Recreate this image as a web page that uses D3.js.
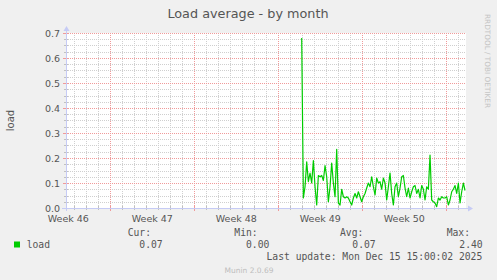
<!DOCTYPE html>
<html>
<head>
<meta charset="utf-8">
<script src="https://cdn.jsdelivr.net/npm/d3@7"></script>
<style>
  body { margin: 0; background: #f0f0f0; }
  text { font-family: 'DejaVu Sans', sans-serif; fill: #555; }
  .mono { font-family: 'DejaVu Sans Mono', monospace; font-size: 9.7px; }
</style>
</head>
<body>
<div id="chart"></div>
<script>
// chart data
const title = 'Load average - by month'
const yLabel = 'load'
const yTicks = [0, 0.1, 0.2, 0.3, 0.4, 0.5, 0.6, 0.7]
const weekLabels = ['Week 46', 'Week 47', 'Week 48', 'Week 49', 'Week 50']
const weekLabelDates = [
  new Date(2025, 10, 12, 12),
  new Date(2025, 10, 19, 12),
  new Date(2025, 10, 26, 12),
  new Date(2025, 11, 3, 12),
  new Date(2025, 11, 10, 12)
]
const periodEnd = new Date(2025, 11, 15, 15, 24)
const periodHours = 800
const loadStart = new Date(2025, 11, 1, 22, 48)
const loadStepMinutes = 200
const loadValues = [
  0.68, 0.04, 0.085, 0.185, 0.105, 0.14, 0.10, 0.19, 0.085, 0.012,
  0.13, 0.125, 0.13, 0.11, 0.17, 0.125, 0.025, 0.085, 0.18, 0.10,
  0.045, 0.235, 0.02, 0.012, 0.075, 0.045, 0.04, 0.045, 0.04, 0.025,
  0.012, 0.04, 0.058, 0.04, 0.065, 0.045, 0.025, 0.045, 0.058, 0.08,
  0.10, 0.085, 0.125, 0.085, 0.052, 0.12, 0.10, 0.105, 0.075, 0.12,
  0.10, 0.032, 0.085, 0.14, 0.058, 0.012, 0.085, 0.10, 0.045, 0.08,
  0.125, 0.13, 0.08, 0.045, 0.08, 0.04, 0.065, 0.085, 0.09, 0.058,
  0.075, 0.04, 0.09, 0.075, 0.032, 0.085, 0.075, 0.212, 0.032, 0.025,
  0.02, 0.005, 0.04, 0.032, 0.045, 0.04, 0.04, 0.045, 0.012, 0.032,
  0.065, 0.075, 0.09, 0.058, 0.10, 0.02, 0.065, 0.10, 0.07
]
const legendName = 'load'
const legendHeaders = ['Cur:', 'Min:', 'Avg:', 'Max:']
const legendValues = ['0.07', '0.00', '0.07', '2.40']
const lastUpdate = 'Last update: Mon Dec 15 15:00:02 2025'
const footer = 'Munin 2.0.69'
const watermark = 'RRDTOOL / TOBI OETIKER'

const width = 497
const height = 280
const plot = { left: 66, right: 466, top: 33, bottom: 208 }

const svg = d3.select('#chart')
  .append('svg')
  .attr('width', width)
  .attr('height', height)

svg.append('rect')
  .attr('width', width)
  .attr('height', height)
  .attr('fill', '#f0f0f0')

const periodStart = new Date(periodEnd.getTime() - periodHours * 3600 * 1000)
const xScale = d3.scaleTime()
  .domain([periodStart, periodEnd])
  .range([plot.left, plot.right])
const yScale = d3.scaleLinear()
  .domain([0, 0.7])
  .range([plot.bottom, plot.top])

// white canvas
svg.append('rect')
  .attr('x', plot.left)
  .attr('y', plot.top)
  .attr('width', plot.right - plot.left)
  .attr('height', plot.bottom - plot.top)
  .attr('fill', '#ffffff')

const grid = svg.append('g').attr('stroke-dasharray', '1,1').attr('shape-rendering', 'crispEdges')

// minor grid: every day, every 0.025
const days = d3.timeDay.range(periodStart, periodEnd)
const weeks = d3.timeWeek.range(periodStart, periodEnd)
const weekSet = new Set(weeks.map(d => +d))
grid.selectAll('.vminor')
  .data(days.filter(d => !weekSet.has(+d)))
  .enter().append('line')
  .attr('x1', d => Math.round(xScale(d)) + 0.5)
  .attr('x2', d => Math.round(xScale(d)) + 0.5)
  .attr('y1', plot.top)
  .attr('y2', plot.bottom)
  .attr('stroke', '#cfcfcf')

const minorY = d3.range(0, 28).map(i => i * 0.025).filter((v, i) => i % 4 !== 0 && i > 0)
grid.selectAll('.hminor')
  .data(minorY)
  .enter().append('line')
  .attr('x1', plot.left)
  .attr('x2', plot.right)
  .attr('y1', d => Math.round(yScale(d)) + 0.5)
  .attr('y2', d => Math.round(yScale(d)) + 0.5)
  .attr('stroke', '#cfcfcf')

// major grid in red
grid.selectAll('.vmajor')
  .data(weeks)
  .enter().append('line')
  .attr('x1', d => Math.round(xScale(d)) + 0.5)
  .attr('x2', d => Math.round(xScale(d)) + 0.5)
  .attr('y1', plot.top)
  .attr('y2', plot.bottom)
  .attr('stroke', '#f09a9a')

grid.selectAll('.hmajor')
  .data(yTicks.slice(1))
  .enter().append('line')
  .attr('x1', plot.left)
  .attr('x2', plot.right)
  .attr('y1', d => Math.round(yScale(d)) + 0.5)
  .attr('y2', d => Math.round(yScale(d)) + 0.5)
  .attr('stroke', '#f09a9a')

// ticks on the axes
const ticks = svg.append('g').attr('shape-rendering', 'crispEdges')
ticks.selectAll('.xt')
  .data(days)
  .enter().append('line')
  .attr('x1', d => Math.round(xScale(d)) + 0.5)
  .attr('x2', d => Math.round(xScale(d)) + 0.5)
  .attr('y1', plot.bottom - 2)
  .attr('y2', d => weekSet.has(+d) ? plot.bottom + 3 : plot.bottom + 2)
  .attr('stroke', d => weekSet.has(+d) ? '#f09a9a' : '#c0c0c0')
ticks.selectAll('.yt')
  .data(d3.range(0, 29).map(i => i * 0.025))
  .enter().append('line')
  .attr('x1', (d, i) => i % 4 === 0 ? plot.left - 3 : plot.left - 2)
  .attr('x2', plot.left + 2)
  .attr('y1', d => Math.round(yScale(d)) + 0.5)
  .attr('y2', d => Math.round(yScale(d)) + 0.5)
  .attr('stroke', (d, i) => i % 4 === 0 ? '#f09a9a' : '#c0c0c0')

// the load line
const loadData = loadValues.map((v, i) => ({
  date: new Date(loadStart.getTime() + i * loadStepMinutes * 60000),
  value: v
}))
const line = d3.line()
  .x(d => xScale(d.date))
  .y(d => yScale(d.value))
svg.append('path')
  .datum(loadData)
  .attr('fill', 'none')
  .attr('stroke', '#00cc00')
  .attr('stroke-width', 1.2)
  .attr('stroke-linejoin', 'round')
  .attr('d', line)

// axes lines with arrows
const axisColor = '#c6cbf5'
svg.append('line')
  .attr('x1', plot.left - 4).attr('x2', plot.right + 3)
  .attr('y1', plot.bottom + 0.5).attr('y2', plot.bottom + 0.5)
  .attr('stroke', axisColor)
svg.append('line')
  .attr('x1', plot.left + 0.5).attr('x2', plot.left + 0.5)
  .attr('y1', plot.bottom + 3).attr('y2', plot.top - 3)
  .attr('stroke', axisColor)
svg.append('path')
  .attr('d', `M${plot.right + 2},${plot.bottom - 2.5} L${plot.right + 7},${plot.bottom + 0.5} L${plot.right + 2},${plot.bottom + 3.5} Z`)
  .attr('fill', axisColor)
svg.append('path')
  .attr('d', `M${plot.left - 2.5},${plot.top - 2} L${plot.left + 0.5},${plot.top - 7} L${plot.left + 3.5},${plot.top - 2} Z`)
  .attr('fill', axisColor)

// tick labels
svg.selectAll('.ylab')
  .data(yTicks)
  .enter().append('text')
  .attr('x', plot.left - 6)
  .attr('y', d => yScale(d) + 3.5)
  .attr('text-anchor', 'end')
  .attr('font-size', '9.5px')
  .text(d => d.toFixed(1))

svg.selectAll('.xlab')
  .data(weekLabels)
  .enter().append('text')
  .attr('x', (d, i) => xScale(weekLabelDates[i]))
  .attr('y', 221.5)
  .attr('text-anchor', 'middle')
  .attr('font-size', '9.5px')
  .text(d => d)

// title and y label
svg.append('text')
  .attr('x', 248)
  .attr('y', 17.5)
  .attr('text-anchor', 'middle')
  .attr('font-size', '12.8px')
  .text(title)

svg.append('text')
  .attr('transform', 'translate(14,' + (plot.top + plot.bottom) / 2 + ') rotate(-90)')
  .attr('text-anchor', 'middle')
  .attr('font-size', '10px')
  .text(yLabel)

svg.append('text')
  .attr('transform', 'translate(485,14) rotate(90)')
  .attr('font-size', '7.3px')
  .attr('fill', '#c4c4c4')
  .style('fill', '#c4c4c4')
  .text(watermark)

// legend
svg.append('rect')
  .attr('x', 14).attr('y', 241.5)
  .attr('width', 6).attr('height', 6)
  .attr('fill', '#00cc00')
svg.append('text')
  .attr('class', 'mono')
  .attr('x', 26.7).attr('y', 247.5)
  .text(legendName)

const headerX = [127.7, 234.3, 340, 446.7]
const valueX = [139.3, 246, 352.3, 459.3]
svg.selectAll('.lh')
  .data(legendHeaders)
  .enter().append('text')
  .attr('class', 'mono')
  .attr('x', (d, i) => headerX[i])
  .attr('y', 236)
  .text(d => d)
svg.selectAll('.lv')
  .data(legendValues)
  .enter().append('text')
  .attr('class', 'mono')
  .attr('x', (d, i) => valueX[i])
  .attr('y', 247.5)
  .text(d => d)

svg.append('text')
  .attr('class', 'mono')
  .attr('x', 482.3).attr('y', 259.5)
  .attr('text-anchor', 'end')
  .text(lastUpdate)

svg.append('text')
  .attr('x', 249).attr('y', 272.5)
  .attr('text-anchor', 'middle')
  .attr('font-size', '7.5px')
  .style('fill', '#bdbdbd')
  .text(footer)
</script>
</body>
</html>
